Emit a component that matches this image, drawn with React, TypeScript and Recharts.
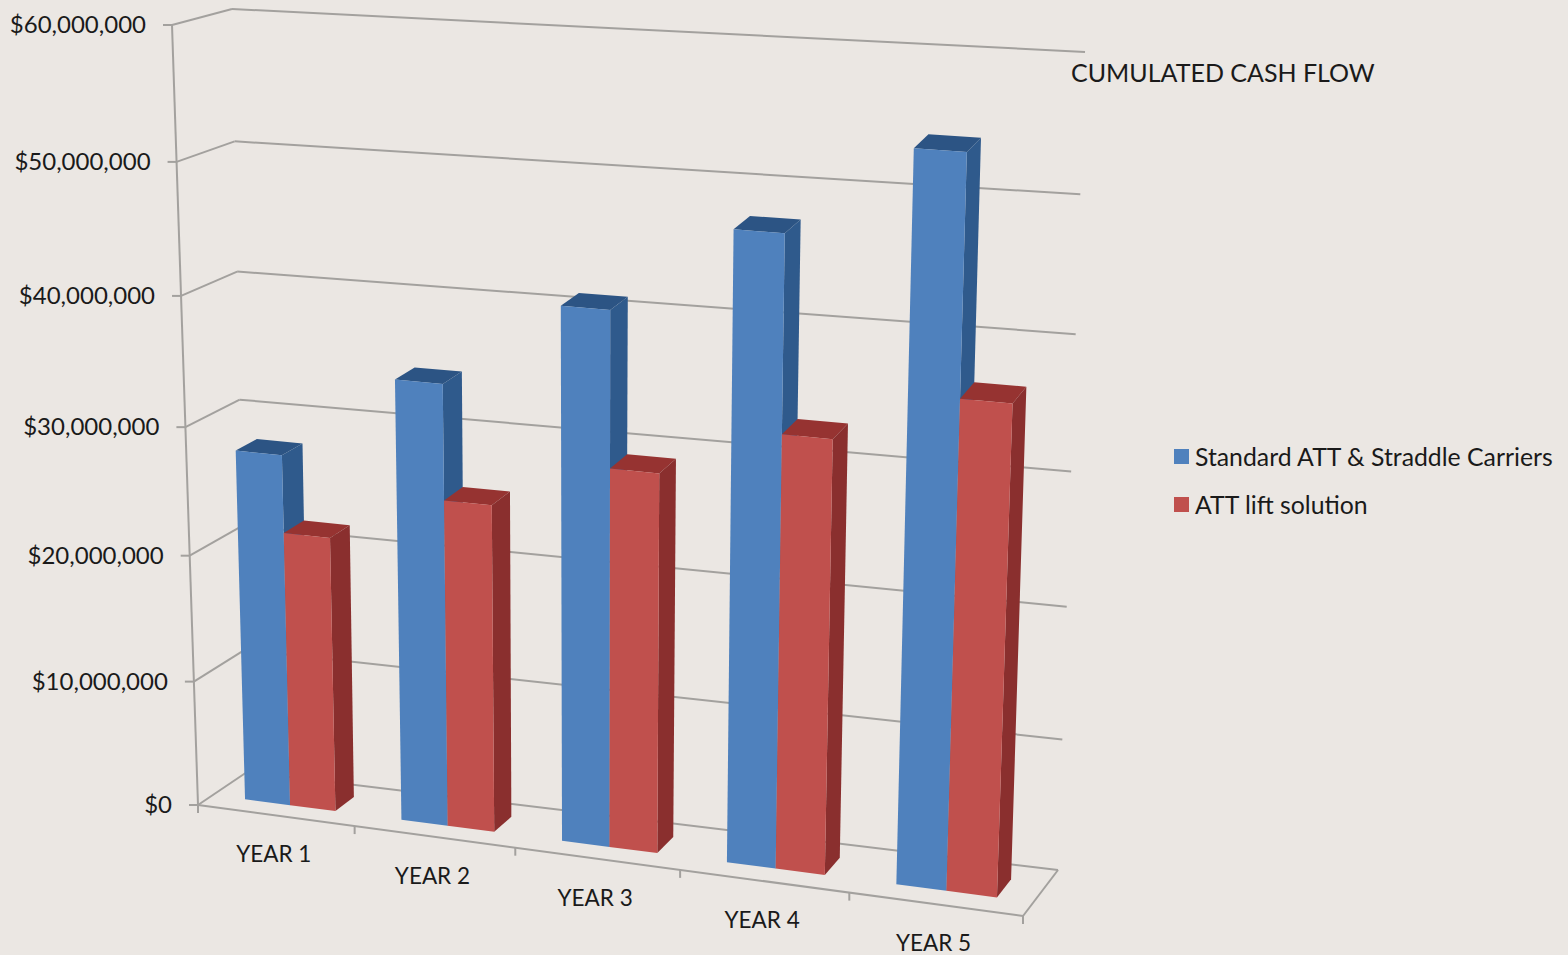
import React from "react";
import { ComposedChart, Bar, XAxis, YAxis, CartesianGrid, Legend } from "recharts";

const years = ["YEAR 1", "YEAR 2", "YEAR 3", "YEAR 4", "YEAR 5"];
const standardAtt = [27800000, 34450000, 41100000, 47700000, 54400000];
const attLift = [21750000, 25600000, 29300000, 33100000, 36900000];
const yTicks = [0, 10000000, 20000000, 30000000, 40000000, 50000000, 60000000];
const seriesNames = ["Standard ATT & Straddle Carriers", "ATT lift solution"];
const chartTitle = "CUMULATED CASH FLOW";

const rows = years.map((year, i) => ({ year, standard: standardAtt[i], lift: attLift[i] }));

const W = 1568, H = 955;
const PL = 198, PT = 25, PW = 826, PH = 780;
const BG = "#ebe7e3";
const FONT = "Lato, 'Open Sans', sans-serif";
const GRID = "#a3a19e";

type Pt = [number, number];
function homography(q: Pt[]) {
  const [[x0, y0], [x1, y1], [x2, y2], [x3, y3]] = q;
  const dx1 = x1 - x2, dx2 = x3 - x2, sx = x0 - x1 + x2 - x3;
  const dy1 = y1 - y2, dy2 = y3 - y2, sy = y0 - y1 + y2 - y3;
  const den = dx1 * dy2 - dx2 * dy1;
  const g = (sx * dy2 - dx2 * sy) / den;
  const h = (dx1 * sy - sx * dy1) / den;
  const a = x1 - x0 + g * x1, b = x3 - x0 + h * x3;
  const d = y1 - y0 + g * y1, e = y3 - y0 + h * y3;
  return (u: number, v: number): Pt => {
    const w = g * u + h * v + 1;
    return [(a * u + b * v + x0) / w, (d * u + e * v + y0) / w];
  };
}
const frontPlane = homography([[198, 805], [1023, 916], [1052, 88], [172, 25]]);
const backPlane = homography([[247, 772], [1058, 870], [1085, 52], [232, 9]]);
function project(u: number, v: number, depth: number): Pt {
  const f = frontPlane(u, v), b = backPlane(u, v);
  return [f[0] + (b[0] - f[0]) * depth, f[1] + (b[1] - f[1]) * depth];
}
const toU = (x: number) => (x - PL) / PW;
const toV = (y: number) => (PT + PH - y) / PH;
const poly = (pts: Pt[]) => pts.map((p) => p.join(",")).join(" ");

const D0 = 0.3, D1 = 0.7;

function bar3d(front: string, top: string, side: string) {
  return (props: any) => {
    const { x, y, width, height } = props;
    const u0 = toU(x), u1 = toU(x + width), v1 = toV(y), v0 = toV(y + height);
    return (
      <g>
        <polygon points={poly([project(u0, v1, D0), project(u0, v1, D1), project(u1, v1, D1), project(u1, v1, D0)])} fill={top} />
        <polygon points={poly([project(u1, v0, D0), project(u1, v0, D1), project(u1, v1, D1), project(u1, v1, D0)])} fill={side} />
        <polygon points={poly([project(u0, v0, D0), project(u1, v0, D0), project(u1, v1, D0), project(u0, v1, D0)])} fill={front} />
      </g>
    );
  };
}

function seg(a: Pt, b: Pt, key?: string) {
  return <line key={key} x1={a[0]} y1={a[1]} x2={b[0]} y2={b[1]} stroke={GRID} strokeWidth={2} />;
}

function gridLine(props: any) {
  const v = toV(props.y1);
  const isFloor = Math.abs(v) < 1e-6;
  return (
    <g key={`grid-${props.index}`}>
      {seg(project(0, v, 0), project(0, v, 1))}
      {seg(project(0, v, 1), project(1, v, 1))}
      {isFloor && seg(project(1, 0, 1), project(1, 0, 0))}
      {isFloor && seg(project(0, 0, 0), project(1, 0, 0))}
      {isFloor && seg(project(0, 0, 0), project(0, 1, 0))}
      {isFloor &&
        years.map((_, i) => {
          const p = project((i + 1) / years.length, 0, 0);
          return seg(p, [p[0], p[1] + 8], `m${i}`);
        })}
      {isFloor && seg(project(0, 0, 0), [198, 813], "m-first")}
    </g>
  );
}

function YTick(props: any) {
  const { y, payload } = props;
  const [px, py] = project(0, toV(y), 0);
  const label = "$" + Number(payload.value).toLocaleString("en-US");
  return (
    <g>
      <line x1={px - 9} y1={py} x2={px} y2={py} stroke={GRID} strokeWidth={2} />
      <text x={px - 26} y={py + 8} textAnchor="end" fontFamily={FONT} fontSize={24} fill="#1a1a1a">
        {label}
      </text>
    </g>
  );
}

function XTick(props: any) {
  const { x, payload } = props;
  const [px, py] = project(toU(x), 0, 0);
  return (
    <text x={px - 2} y={py + 47} textAnchor="middle" fontFamily={FONT} fontSize={22.5} fill="#1a1a1a">
      {payload.value}
    </text>
  );
}

function LegendBox(props: any) {
  return (
    <div style={{ fontFamily: FONT, fontSize: 24.8, color: "#1a1a1a" }}>
      {(props.payload || []).map((entry: any) => (
        <div key={entry.value} style={{ display: "flex", alignItems: "center", height: 48, whiteSpace: "nowrap" }}>
          <span style={{ width: 15, height: 15, background: entry.color, marginRight: 6, display: "inline-block" }} />
          <span>{entry.value}</span>
        </div>
      ))}
    </div>
  );
}

export default function App() {
  return (
    <div style={{ position: "absolute", left: 0, top: 0, width: W, height: H, background: BG, overflow: "hidden" }}>
      <style>{`html,body{margin:0;background:${BG}}`}</style>
      <ComposedChart width={W} height={H} data={rows} margin={{ left: 0, right: W - PL - PW, top: PT, bottom: 0 }} barCategoryGap="21%" barGap={0}>
        <CartesianGrid horizontal={gridLine} vertical={false} />
        <XAxis dataKey="year" height={H - PT - PH} axisLine={false} tickLine={false} tick={<XTick />} interval={0} />
        <YAxis width={PL} domain={[0, 60000000]} ticks={yTicks} axisLine={false} tickLine={false} tick={<YTick />} interval={0} />
        <Legend content={<LegendBox />} layout="vertical" align="center" verticalAlign="middle" itemSorter={null} wrapperStyle={{ position: "absolute", left: 1174, top: 432, width: 390, bottom: "auto", right: "auto" }} />
        <Bar dataKey="standard" name={seriesNames[0]} fill="#4f81bd" isAnimationActive={false} shape={bar3d("#4f81bd", "#2c5484", "#2f5a8c")} />
        <Bar dataKey="lift" name={seriesNames[1]} fill="#c0504d" isAnimationActive={false} shape={bar3d("#c0504d", "#963331", "#8a2f2e")} />
      </ComposedChart>
      <div style={{ position: "absolute", left: 1071, top: 57, fontFamily: FONT, fontSize: 25, lineHeight: "30px", color: "#1a1a1a", whiteSpace: "nowrap" }}>
        {chartTitle}
      </div>
    </div>
  );
}
